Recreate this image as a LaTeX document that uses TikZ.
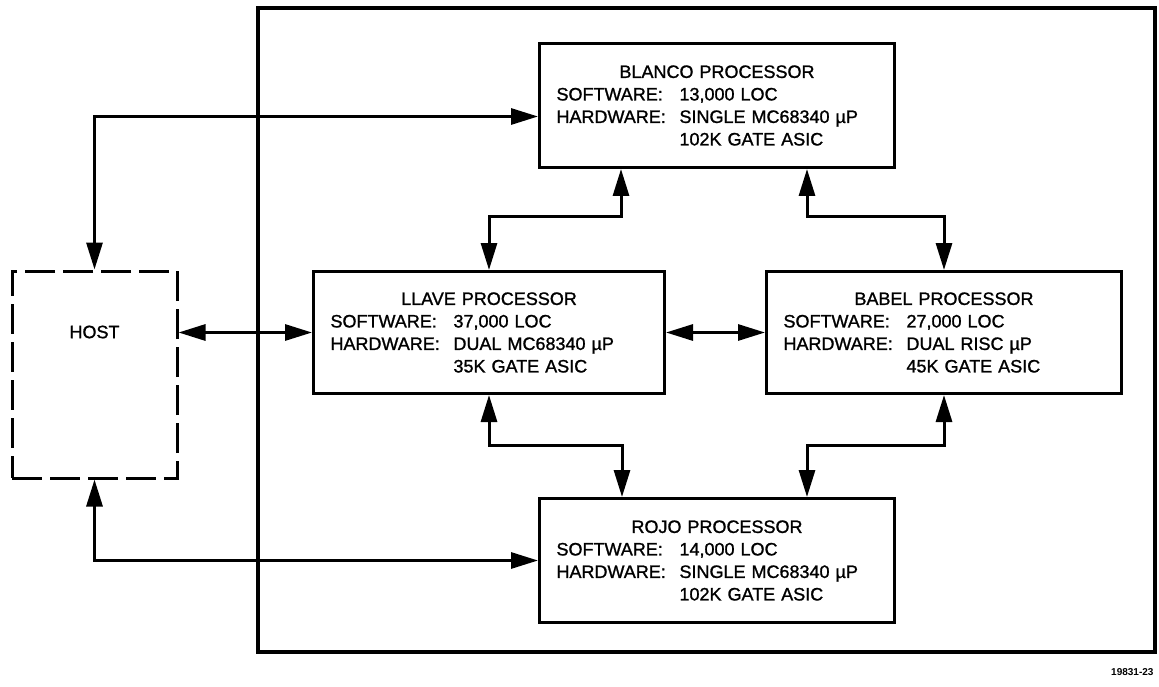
\documentclass[tikz,border=0pt]{standalone}
\usepackage{fontspec}
\setmainfont{Liberation Sans}
\newfontfamily\medfont[RawFeature={embolden=1.2}]{Liberation Sans}
\usetikzlibrary{arrows.meta}
\newcommand\lab[1]{\makebox[123pt][l]{#1}}
\begin{document}
\begin{tikzpicture}[x=1pt,y=-1pt,
  proc/.style={draw, line width=3pt, minimum height=124pt, inner xsep=17pt, inner ysep=0pt,
    text width=#1, align=left, anchor=north west, font=\medfont\fontsize{18}{22.5}\selectfont},
  hostbox/.style={draw, line width=3pt, dash pattern=on 30pt off 8pt, minimum width=165pt, minimum height=207pt},
  dbl/.style={line width=3pt, {Triangle[length=27pt,width=16pt]}-{Triangle[length=27pt,width=16pt]}},
  txt/.style={font=\medfont\fontsize{18}{22.5}\selectfont}
]
\useasboundingbox (0,0) rectangle (1159,687);
\draw[line width=4pt] (258,8) rectangle (1155,652);

\node[proc=321pt] (blanco) at (538,42) {\makebox[\linewidth][c]{BLANCO PROCESSOR}\\
  \lab{SOFTWARE:}13,000 LOC\\ \lab{HARDWARE:}SINGLE MC68340 µP\\ \hspace*{123pt}102K GATE ASIC};
\node[proc=317pt, minimum height=122pt] (llave) at (312,270) {\makebox[\linewidth][c]{LLAVE PROCESSOR}\\
  \lab{SOFTWARE:}37,000 LOC\\ \lab{HARDWARE:}DUAL MC68340 µP\\ \hspace*{123pt}35K GATE ASIC};
\node[proc=321pt, minimum height=122pt] (babel) at (765,270) {\makebox[\linewidth][c]{BABEL PROCESSOR}\\
  \lab{SOFTWARE:}27,000 LOC\\ \lab{HARDWARE:}DUAL RISC µP\\ \hspace*{123pt}45K GATE ASIC};
\node[proc=321pt] (rojo) at (538,497) {\makebox[\linewidth][c]{ROJO PROCESSOR}\\
  \lab{SOFTWARE:}14,000 LOC\\ \lab{HARDWARE:}SINGLE MC68340 µP\\ \hspace*{123pt}102K GATE ASIC};

\node[hostbox] (host) at (94.5,374.5) {};
\node[txt] (hostlabel) at (94.5,332) {HOST};

\coordinate (bl) at (621,217);
\coordinate (bb) at (807,217);
\coordinate (lr) at (622,445);
\coordinate (br) at (807,445);

\draw[dbl] (blanco.south -| bl) -- (bl) -| (llave.north);
\draw[dbl] (blanco.south -| bb) -- (bb) -| (babel.north);
\draw[dbl] (llave.south) |- (lr) -- (rojo.north -| lr);
\draw[dbl] (babel.south) |- (br) -- (rojo.north -| br);
\draw[dbl] (host.north) |- ([yshift=-11pt]blanco.west);
\draw[dbl] (host.south) |- (rojo.west);
\draw[dbl] (llave.west -| host.east) -- (llave.west);
\draw[dbl] (llave.east) -- (llave.east -| babel.west);

\node[font=\bfseries\fontsize{10}{12}\selectfont, anchor=east] (fig) at (1157,672) {19831-23};
\end{tikzpicture}
\end{document}
